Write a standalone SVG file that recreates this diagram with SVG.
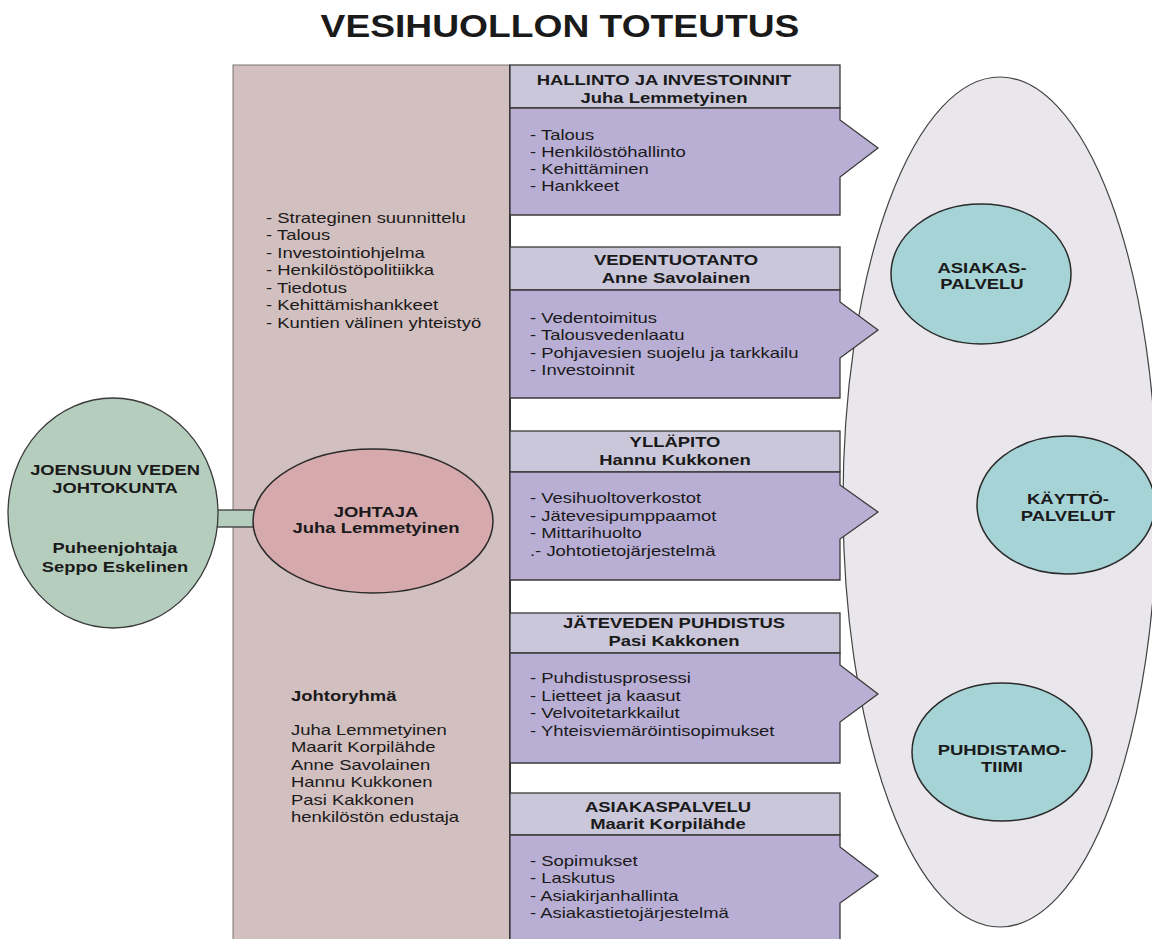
<svg xmlns="http://www.w3.org/2000/svg" width="1152" height="939" viewBox="0 0 1152 939">
<style>
 text { font-family: "Liberation Sans", Arial, sans-serif; font-size: 15px; fill: #1a1a1a; }
 .b { font-weight: bold; }
 .c { text-anchor: middle; }
 .title { font-size: 30.5px; font-weight: bold; }
 .hdr { fill: #c9c7d9; stroke: #3a3a3a; stroke-width: 1.3; }
 .body { fill: #b9afd5; stroke: #3a3a3a; stroke-width: 1.3; }
 .teal { fill: #a6d3d6; stroke: #2a2a2a; stroke-width: 1.5; }
</style>
<rect width="1152" height="939" fill="#ffffff"/>
<text class="title c" transform="matrix(1.22 0 0 1 560 37)">VESIHUOLLON TOTEUTUS</text>

<g id="column">
 <rect x="233" y="65" width="277" height="880" fill="#d2bfbf" stroke="#777" stroke-width="1"/>
 <line x1="510" y1="65" x2="510" y2="939" stroke="#333" stroke-width="2"/>
 <text transform="matrix(1.23 0 0 1 266 223)"><tspan x="0">- Strateginen suunnittelu</tspan><tspan x="0" dy="17.5">- Talous</tspan><tspan x="0" dy="17.5">- Investointiohjelma</tspan><tspan x="0" dy="17.5">- Henkilöstöpolitiikka</tspan><tspan x="0" dy="17.5">- Tiedotus</tspan><tspan x="0" dy="17.5">- Kehittämishankkeet</tspan><tspan x="0" dy="17.5">- Kuntien välinen yhteistyö</tspan></text>
 <text class="b" transform="matrix(1.23 0 0 1 291 701)">Johtoryhmä</text>
 <text transform="matrix(1.23 0 0 1 291 735)"><tspan x="0">Juha Lemmetyinen</tspan><tspan x="0" dy="17.5">Maarit Korpilähde</tspan><tspan x="0" dy="17.5">Anne Savolainen</tspan><tspan x="0" dy="17.5">Hannu Kukkonen</tspan><tspan x="0" dy="17.5">Pasi Kakkonen</tspan><tspan x="0" dy="17.5">henkilöstön edustaja</tspan></text>
</g>

<g id="services">
 <ellipse cx="1000" cy="502" rx="157" ry="425" fill="#e9e7eb" stroke="#444" stroke-width="1.2"/>
</g>
<g id="asiakaspalvelu-team">
 <ellipse class="teal" cx="981" cy="274" rx="90" ry="70"/>
 <text class="b c" transform="matrix(1.23 0 0 1 982 273)"><tspan x="0">ASIAKAS-</tspan><tspan x="0" dy="16">PALVELU</tspan></text>
</g>
<g id="kayttopalvelut">
 <ellipse class="teal" cx="1066" cy="505" rx="89" ry="69"/>
 <text class="b c" transform="matrix(1.23 0 0 1 1068 504)"><tspan x="0">KÄYTTÖ-</tspan><tspan x="0" dy="17">PALVELUT</tspan></text>
</g>
<g id="puhdistamotiimi">
 <ellipse class="teal" cx="1002" cy="752" rx="90" ry="69"/>
 <text class="b c" transform="matrix(1.23 0 0 1 1002 755)"><tspan x="0">PUHDISTAMO-</tspan><tspan x="0" dy="17">TIIMI</tspan></text>
</g>

<g id="hallinto">
 <rect class="hdr" x="510" y="65" width="330" height="43"/>
 <path class="body" d="M510,108 H840 V120 L878,148 L840,177 V215 H510 Z"/>
 <text class="b c" transform="matrix(1.23 0 0 1 664 85)"><tspan x="0">HALLINTO JA INVESTOINNIT</tspan><tspan x="0" dy="18">Juha Lemmetyinen</tspan></text>
 <text transform="matrix(1.23 0 0 1 530 140)"><tspan x="0">- Talous</tspan><tspan x="0" dy="17">- Henkilöstöhallinto</tspan><tspan x="0" dy="17">- Kehittäminen</tspan><tspan x="0" dy="17">- Hankkeet</tspan></text>
</g>
<g id="vedentuotanto">
 <rect class="hdr" x="510" y="247" width="330" height="43"/>
 <path class="body" d="M510,290 H840 V302 L878,330 L840,358 V398 H510 Z"/>
 <text class="b c" transform="matrix(1.23 0 0 1 676 265)"><tspan x="0">VEDENTUOTANTO</tspan><tspan x="0" dy="18">Anne Savolainen</tspan></text>
 <text transform="matrix(1.23 0 0 1 530 323)"><tspan x="0">- Vedentoimitus</tspan><tspan x="0" dy="17.3">- Talousvedenlaatu</tspan><tspan x="0" dy="17.3">- Pohjavesien suojelu ja tarkkailu</tspan><tspan x="0" dy="17.3">- Investoinnit</tspan></text>
</g>
<g id="yllapito">
 <rect class="hdr" x="510" y="431" width="330" height="41"/>
 <path class="body" d="M510,472 H840 V485 L878,512 L840,539 V580 H510 Z"/>
 <text class="b c" transform="matrix(1.23 0 0 1 675 447)"><tspan x="0">YLLÄPITO</tspan><tspan x="0" dy="18">Hannu Kukkonen</tspan></text>
 <text transform="matrix(1.23 0 0 1 530 503)"><tspan x="0">- Vesihuoltoverkostot</tspan><tspan x="0" dy="17.6">- Jätevesipumppaamot</tspan><tspan x="0" dy="17.6">- Mittarihuolto</tspan><tspan x="0" dy="17.6">.- Johtotietojärjestelmä</tspan></text>
</g>
<g id="jatevesi">
 <rect class="hdr" x="510" y="613" width="330" height="40"/>
 <path class="body" d="M510,653 H840 V665 L878,694 L840,722 V763 H510 Z"/>
 <text class="b c" transform="matrix(1.23 0 0 1 674 628)"><tspan x="0">JÄTEVEDEN PUHDISTUS</tspan><tspan x="0" dy="18">Pasi Kakkonen</tspan></text>
 <text transform="matrix(1.23 0 0 1 530 683)"><tspan x="0">- Puhdistusprosessi</tspan><tspan x="0" dy="17.6">- Lietteet ja kaasut</tspan><tspan x="0" dy="17.6">- Velvoitetarkkailut</tspan><tspan x="0" dy="17.6">- Yhteisviemäröintisopimukset</tspan></text>
</g>
<g id="asiakaspalvelu">
 <rect class="hdr" x="510" y="793" width="330" height="42"/>
 <path class="body" d="M510,835 H840 V847 L878,876 L840,903 V945 H510 Z"/>
 <text class="b c" transform="matrix(1.23 0 0 1 668 812)"><tspan x="0">ASIAKASPALVELU</tspan><tspan x="0" dy="17">Maarit Korpilähde</tspan></text>
 <text transform="matrix(1.23 0 0 1 530 866)"><tspan x="0">- Sopimukset</tspan><tspan x="0" dy="17.4">- Laskutus</tspan><tspan x="0" dy="17.4">- Asiakirjanhallinta</tspan><tspan x="0" dy="17.4">- Asiakastietojärjestelmä</tspan></text>
</g>

<g id="connectors">
 <rect x="214" y="510" width="44" height="17" fill="#b5cdbd" stroke="#3a3a3a" stroke-width="1.3"/>
</g>

<g id="johtokunta">
 <ellipse cx="113" cy="513" rx="105" ry="115" fill="#b5cdbd" stroke="#3a3a3a" stroke-width="1.3"/>
 <text class="b c" transform="matrix(1.22 0 0 1 115 475)"><tspan x="0">JOENSUUN VEDEN</tspan><tspan x="0" dy="18">JOHTOKUNTA</tspan><tspan x="0" dy="60">Puheenjohtaja</tspan><tspan x="0" dy="19">Seppo Eskelinen</tspan></text>
</g>
<g id="johtaja">
 <ellipse cx="373" cy="521" rx="120" ry="72" fill="#d6a9ad" stroke="#2a2a2a" stroke-width="1.5"/>
 <text class="b c" transform="matrix(1.23 0 0 1 376 517)"><tspan x="0">JOHTAJA</tspan><tspan x="0" dy="16.5">Juha Lemmetyinen</tspan></text>
</g>
</svg>
